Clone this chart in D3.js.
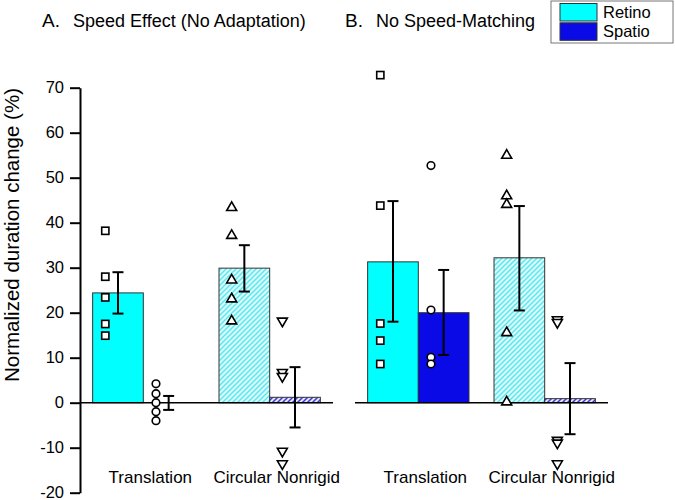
<!DOCTYPE html>
<html>
<head>
<meta charset="utf-8">
<script src="https://cdn.jsdelivr.net/npm/d3@7"></script>
<style>
  body { margin: 0; background: #fff; }
  svg { display: block; font-family: "Liberation Sans", Arial, sans-serif; }
</style>
</head>
<body>
<div id="chart"></div>
<script>
var width = 675;
var height = 500;

// categories and labels
var categories = ["Translation", "Circular Nonrigid"];
var conditions = ["Retino", "Spatio"];
var yTicks = [-20, -10, 0, 10, 20, 30, 40, 50, 60, 70];
var panelTitles = [["A.", "Speed Effect (No Adaptation)"], ["B.", "No Speed-Matching"]];

// panel A: means, error ranges [low, high], individual subjects
var retinoMeanA = [24.4, 29.9];
var spatioMeanA = [0.0, 1.2];
var retinoErrA = [[19.8, 29.0], [24.7, 35.0]];
var spatioErrA = [[-1.6, 1.5], [-5.5, 7.9]];
var retinoPtsA = [[38.2, 28.0, 23.4, 17.5, 14.9], [43.6, 37.4, 27.5, 23.3, 18.4]];
var spatioPtsA = [[4.2, 2.0, 0.0, -2.0, -4.0], [17.9, 6.5, 5.6, -11.0, -13.8]];

// panel B
var retinoMeanB = [31.3, 32.2];
var spatioMeanB = [20.0, 0.9];
var retinoErrB = [[18.0, 44.8], [20.5, 43.7]];
var spatioErrB = [[10.6, 29.5], [-7.0, 8.8]];
var retinoPtsB = [[72.8, 43.8, 17.6, 13.8, 8.6], [55.2, 46.2, 44.3, 15.8, 0.4]];
var spatioPtsB = [[52.7, 20.6, 10.1, 8.6], [18.2, 17.6, -8.6, -9.2, -13.8]];

var panels = [
    { title: panelTitles[0], range: [80, 333], retMean: retinoMeanA, spaMean: spatioMeanA,
      retErr: retinoErrA, spaErr: spatioErrA, retPts: retinoPtsA, spaPts: spatioPtsA },
    { title: panelTitles[1], range: [355, 608], retMean: retinoMeanB, spaMean: spatioMeanB,
      retErr: retinoErrB, spaErr: spatioErrB, retPts: retinoPtsB, spaPts: spatioPtsB }
];

var y = d3.scaleLinear().domain([-20, 70]).range([492.7, 87.7]);

var svg = d3.select("#chart").append("svg")
    .attr("width", width)
    .attr("height", height);

// hatch patterns for the nonrigid bars
var defs = svg.append("defs");
function hatch(id, bg, line) {
    var p = defs.append("pattern")
        .attr("id", id)
        .attr("patternUnits", "userSpaceOnUse")
        .attr("width", 5).attr("height", 5);
    p.append("rect").attr("width", 5).attr("height", 5).attr("fill", bg);
    p.append("path").attr("d", "M-1,1 l2,-2 M0,5 l5,-5 M4,6 l2,-2")
        .attr("stroke", line).attr("stroke-width", 1.5);
}
hatch("hatchRetino", "#dcfdfd", "#5ae8ee");
hatch("hatchSpatio", "#e4e4fb", "#3a3ad0");

var fills = [["#00ffff", "url(#hatchRetino)"], ["#0a0ae6", "url(#hatchSpatio)"]];

function marker(sel, kind) {
    sel.each(function (d) {
        var g = d3.select(this);
        if (kind === 0 && d.cat === 0) {
            g.append("rect").attr("x", -3.6).attr("y", -3.6).attr("width", 7.2).attr("height", 7.2);
        } else if (kind === 0) {
            g.append("path").attr("d", "M0,-4.6 L5,4 L-5,4 Z");
        } else if (d.cat === 0) {
            g.append("circle").attr("r", 3.8);
        } else {
            g.append("path").attr("d", "M0,4.6 L5,-4 L-5,-4 Z");
        }
    });
}

panels.forEach(function (p, pi) {
    var x0 = d3.scaleBand().domain(categories).range(p.range)
        .paddingInner(0.198).paddingOuter(0.1);
    var x1 = d3.scaleBand().domain(conditions).range([0, x0.bandwidth()]);
    var bw = x1.bandwidth();

    var means = [p.retMean, p.spaMean];
    var errs = [p.retErr, p.spaErr];
    var pts = [p.retPts, p.spaPts];

    var g = svg.append("g");

    // bars
    var bars = [];
    categories.forEach(function (c, ci) {
        conditions.forEach(function (cond, k) {
            bars.push({ cat: ci, cond: k, x: x0(c) + x1(cond), v: means[k][ci] });
        });
    });
    g.selectAll("rect.bar").data(bars).enter().append("rect")
        .attr("class", "bar")
        .attr("x", function (d) { return d.x; })
        .attr("y", function (d) { return y(Math.max(0, d.v)); })
        .attr("width", bw)
        .attr("height", function (d) { return Math.abs(y(d.v) - y(0)); })
        .attr("fill", function (d) { return fills[d.cond][d.cat]; })
        .attr("stroke", "#333")
        .attr("stroke-width", function (d) { return d.v === 0 ? 0 : 1; });

    // zero line
    g.append("line")
        .attr("x1", p.range[0]).attr("x2", p.range[1])
        .attr("y1", y(0)).attr("y2", y(0))
        .attr("stroke", "#000").attr("stroke-width", 1.5);

    // individual points
    bars.forEach(function (b) {
        var data = pts[b.cond][b.cat].map(function (v) { return { cat: b.cat, v: v }; });
        var sel = g.append("g").selectAll("g").data(data).enter().append("g")
            .attr("transform", function (d) { return "translate(" + (b.x + bw * 0.25) + "," + y(d.v) + ")"; })
            .attr("fill", "#fff").attr("stroke", "#000").attr("stroke-width", 1.6);
        marker(sel, b.cond);
    });

    // error bars
    bars.forEach(function (b) {
        var e = errs[b.cond][b.cat];
        var cx = b.x + bw / 2;
        var eg = g.append("g").attr("stroke", "#000").attr("stroke-width", 2);
        eg.append("line").attr("x1", cx).attr("x2", cx).attr("y1", y(e[0])).attr("y2", y(e[1]));
        eg.append("line").attr("x1", cx - 5.5).attr("x2", cx + 5.5).attr("y1", y(e[0])).attr("y2", y(e[0]));
        eg.append("line").attr("x1", cx - 5.5).attr("x2", cx + 5.5).attr("y1", y(e[1])).attr("y2", y(e[1]));
    });

    // category labels
    g.selectAll("text.cat").data(categories).enter().append("text")
        .attr("class", "cat")
        .attr("x", function (d) { return x0(d) + x0.bandwidth() / 2 + 7; })
        .attr("y", 483)
        .attr("text-anchor", "middle")
        .attr("font-size", 17)
        .text(function (d) { return d; });

    // panel title
    var tx = pi === 0 ? 42 : 345;
    g.append("text").attr("x", tx).attr("y", 27).attr("font-size", 19).text(p.title[0]);
    g.append("text").attr("x", tx + 31).attr("y", 27).attr("font-size", 18).text(p.title[1]);
});

// y axis
var yAxis = d3.axisLeft(y).tickValues(yTicks).tickSize(10).tickSizeOuter(0).tickPadding(6)
    .tickFormat(function (d) { return String(d); });
var ax = svg.append("g").attr("transform", "translate(80,0)").call(yAxis);
ax.select(".domain").attr("stroke-width", 2);
ax.selectAll(".tick line").attr("stroke-width", 2);
ax.selectAll(".tick text").attr("font-size", 16.5).attr("font-family", "Liberation Sans, Arial, sans-serif").attr("fill", "#000");

svg.append("text")
    .attr("transform", "translate(19,235) rotate(-90)")
    .attr("text-anchor", "middle")
    .attr("font-size", 20.5)
    .text("Normalized duration change (%)");

// legend
var lg = svg.append("g");
lg.append("rect").attr("x", 551).attr("y", 1).attr("width", 122).attr("height", 42)
    .attr("fill", "#fff").attr("stroke", "#777").attr("stroke-width", 1);
conditions.forEach(function (c, i) {
    lg.append("rect").attr("x", 560).attr("y", 3.5 + i * 19.3).attr("width", 37).attr("height", 17.5)
        .attr("fill", fills[i][0]).attr("stroke", "#333").attr("stroke-width", 1);
    lg.append("text").attr("x", 603).attr("y", 17.5 + i * 19).attr("font-size", 16.5).text(c);
});
</script>
</body>
</html>
